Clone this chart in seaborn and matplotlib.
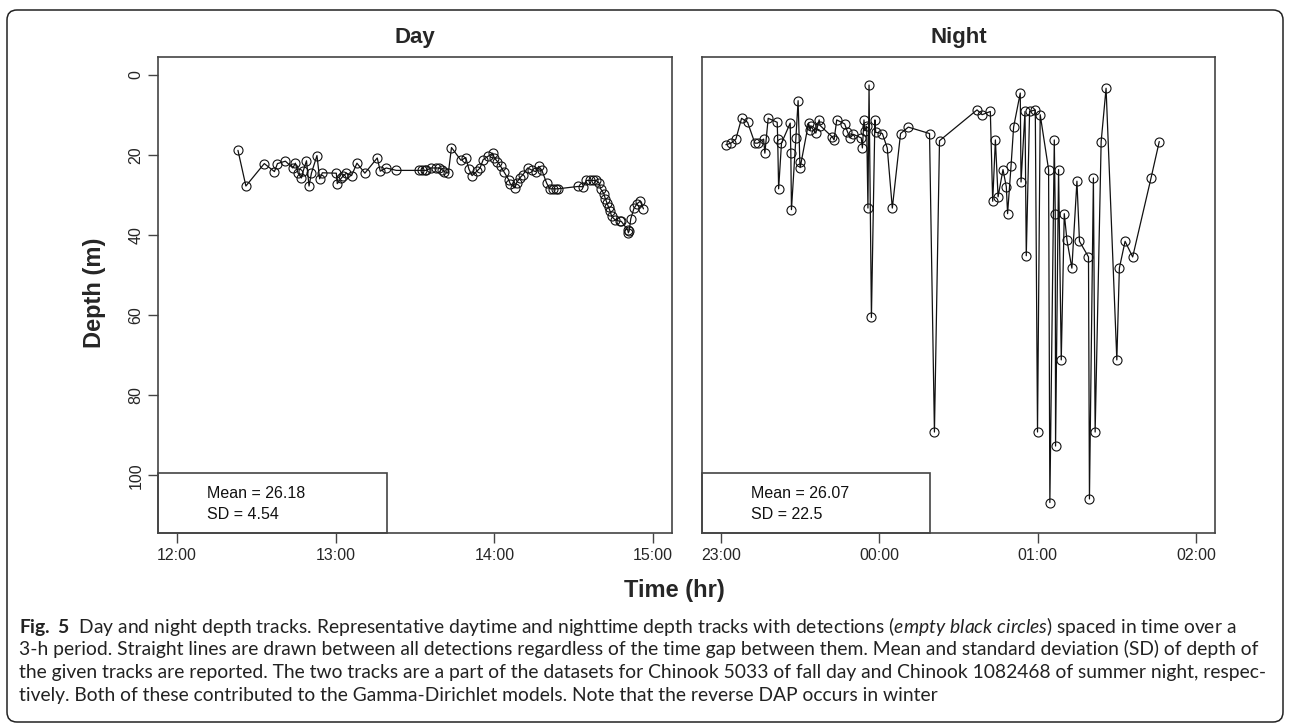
import matplotlib
matplotlib.use("Agg")
import numpy as np
import pandas as pd
import matplotlib.pyplot as plt
from matplotlib.patches import Rectangle, FancyBboxPatch
from matplotlib.transforms import IdentityTransform
import seaborn as sns

# Day track (decimal hours)
day_time = [12.384, 12.434, 12.550, 12.614, 12.633, 12.683, 12.730, 12.746, 12.763, 12.784,
            12.795, 12.816, 12.832, 12.847, 12.882, 12.899, 12.916, 13.004, 13.010, 13.036,
            13.046, 13.067, 13.100, 13.134, 13.184, 13.262, 13.281, 13.319, 13.382, 13.528,
            13.545, 13.560, 13.570, 13.600, 13.630, 13.650, 13.670, 13.685, 13.710, 13.730,
            13.790, 13.820, 13.840, 13.860, 13.890, 13.910, 13.930, 13.960, 13.990, 14.000,
            14.020, 14.040, 14.060, 14.090, 14.100, 14.130, 14.140, 14.160, 14.180, 14.210,
            14.240, 14.260, 14.280, 14.300, 14.330, 14.350, 14.370, 14.390, 14.400, 14.530,
            14.560, 14.580, 14.600, 14.620, 14.640, 14.660, 14.670, 14.690, 14.700, 14.710,
            14.720, 14.730, 14.740, 14.760, 14.790, 14.800, 14.840, 14.845, 14.850, 14.860,
            14.880, 14.900, 14.920, 14.940]
day_depth = [18.9, 27.8, 22.2, 24.2, 22.2, 21.6, 23.3, 22.1, 24.6, 25.8,
             24.1, 21.5, 27.8, 24.6, 20.2, 26.0, 24.5, 24.6, 27.2, 25.8,
             25.4, 24.6, 25.2, 22.1, 24.6, 20.8, 24.1, 23.3, 23.9, 23.9,
             23.9, 23.9, 23.9, 23.3, 23.3, 23.3, 23.7, 24.2, 24.6, 18.2,
             21.4, 20.7, 23.6, 25.2, 24.1, 23.3, 21.2, 20.4, 19.6, 20.8,
             21.7, 22.9, 24.2, 26.2, 27.2, 28.3, 27.0, 25.8, 25.0, 23.3,
             23.9, 24.2, 22.9, 23.9, 27.1, 28.5, 28.5, 28.5, 28.5, 27.9,
             28.0, 26.4, 26.4, 26.4, 26.4, 27.0, 28.5, 29.7, 31.0, 32.0,
             33.1, 34.1, 35.4, 36.2, 36.6, 36.6, 38.7, 39.5, 39.0, 36.0,
             33.4, 32.2, 31.6, 33.5]

# Night track (hours relative to midnight, -1 = 23:00)
night_time = [-0.969, -0.937, -0.906, -0.870, -0.832, -0.786, -0.769, -0.731, -0.723, -0.702,
              -0.645, -0.642, -0.636, -0.618, -0.563, -0.559, -0.555, -0.527, -0.513, -0.502,
              -0.500, -0.447, -0.437, -0.433, -0.401, -0.380, -0.374, -0.296, -0.286, -0.269,
              -0.219, -0.202, -0.185, -0.164, -0.114, -0.107, -0.097, -0.092, -0.080, -0.072,
              -0.065, -0.050, -0.028, -0.023, 0.019, 0.050, 0.082, 0.134, 0.183, 0.317,
              0.348, 0.380, 0.617, 0.649, 0.701, 0.716, 0.733, 0.750, 0.781, 0.802,
              0.810, 0.832, 0.848, 0.890, 0.895, 0.920, 0.928, 0.949, 0.985, 0.999,
              1.016, 1.069, 1.077, 1.105, 1.111, 1.113, 1.132, 1.149, 1.168, 1.185,
              1.216, 1.248, 1.264, 1.321, 1.327, 1.352, 1.363, 1.401, 1.432, 1.500,
              1.516, 1.552, 1.600, 1.716, 1.768]
night_depth = [17.5, 17.1, 16.1, 10.9, 11.9, 17.1, 17.1, 16.1, 19.6, 10.9,
               11.9, 16.1, 28.5, 17.1, 12.1, 19.6, 33.7, 15.8, 6.5, 21.9,
               23.2, 12.1, 13.9, 12.9, 14.6, 11.3, 12.7, 15.6, 16.3, 11.3,
               12.3, 14.2, 15.8, 14.9, 15.8, 18.3, 11.3, 14.0, 12.9, 33.3,
               2.6, 60.6, 11.3, 14.4, 14.7, 18.3, 33.3, 14.7, 13.1, 14.7,
               89.2, 16.5, 8.8, 10.0, 9.2, 31.6, 16.3, 30.5, 23.7, 28.0,
               34.7, 22.7, 13.1, 4.6, 26.8, 9.2, 45.2, 9.2, 8.8, 89.2,
               10.0, 23.7, 106.8, 16.3, 34.7, 92.7, 23.7, 71.2, 34.7, 41.3,
               48.3, 26.6, 41.6, 45.5, 105.9, 25.8, 89.2, 16.7, 3.4, 71.2,
               48.3, 41.6, 45.5, 25.8, 16.7]

panel_names = ["Day", "Night"]
panel_means = ["26.18", "26.07"]
panel_sds = ["4.54", "22.5"]
day_ticks = [12, 13, 14, 15]
day_ticklabels = ["12:00", "13:00", "14:00", "15:00"]
night_ticks = [-1, 0, 1, 2]
night_ticklabels = ["23:00", "00:00", "01:00", "02:00"]
depth_ticks = [0, 20, 40, 60, 80, 100]

caption_lines = [
    r"$\mathbf{Fig.\ 5}$  Day and night depth tracks. Representative daytime and nighttime depth tracks with detections ($\mathit{empty\ black\ circles}$) spaced in time over a",
    "3-h period. Straight lines are drawn between all detections regardless of the time gap between them. Mean and standard deviation (SD) of depth of",
    "the given tracks are reported. The two tracks are a part of the datasets for Chinook 5033 of fall day and Chinook 1082468 of summer night, respec-",
    "tively. Both of these contributed to the Gamma-Dirichlet models. Note that the reverse DAP occurs in winter",
]

sns.set_style("white")
plt.rcParams['font.family'] = ['Liberation Sans', 'DejaVu Sans']
plt.rcParams['mathtext.fontset'] = 'custom'
plt.rcParams['mathtext.rm'] = 'Lato'
plt.rcParams['mathtext.it'] = 'Lato:italic'
plt.rcParams['mathtext.bf'] = 'Lato:bold'

W, H = 1290, 726
fig = plt.figure(figsize=(W / 100, H / 100), dpi=100)
fig.patch.set_facecolor('white')


def px_rect(left, top, right, bottom):
    return [left / W, 1 - bottom / H, (right - left) / W, (bottom - top) / H]


ax_day = fig.add_axes(px_rect(158, 57, 672, 533))
ax_night = fig.add_axes(px_rect(702, 57, 1215, 533))

tracks = [
    (ax_day, day_time, day_depth, (11.88, 15.12), day_ticks, day_ticklabels),
    (ax_night, night_time, night_depth, (-1.12, 2.12), night_ticks, night_ticklabels),
]

for i, (ax, t, d, xlim, xt, xtl) in enumerate(tracks):
    df = pd.DataFrame({'time': t, 'depth': d})
    sns.lineplot(data=df, x='time', y='depth', estimator=None, sort=False, ax=ax,
                 color='#111111', lw=0.9, marker='o', markersize=6.5,
                 markerfacecolor='none', markeredgecolor='#111111', markeredgewidth=0.8)
    ax.set_xlim(*xlim)
    ax.set_ylim(114.4, -4.4)
    ax.set_xticks(xt)
    ax.set_xticklabels(xtl)
    ax.set_xlabel('')
    ax.set_ylabel('')
    ax.tick_params(axis='x', direction='out', length=7, width=1, color='#444444',
                   labelsize=11.5, pad=3.5, bottom=True)
    if i == 0:
        ax.set_yticks(depth_ticks)
        ax.set_yticklabels([str(v) for v in depth_ticks], rotation=90, va='center')
        ax.tick_params(axis='y', direction='out', length=7, width=1, color='#444444',
                       labelsize=11.5, pad=3.5, left=True)
    else:
        ax.set_yticks([])
    for s in ax.spines.values():
        s.set_visible(True)
        s.set_color('#444444')
        s.set_linewidth(1.2)
    ax.set_title(panel_names[i], fontsize=16, fontweight='bold', pad=10)

    # stats box in lower left
    ax.add_patch(Rectangle((0, 0), 0.445, 0.126, transform=ax.transAxes, fill=False,
                           ec='#444444', lw=1.2, clip_on=False))
    ax.text(0.095, 0.084, f"Mean = {panel_means[i]}", transform=ax.transAxes,
            fontsize=11.5, va='center', ha='left', color='#111111')
    ax.text(0.095, 0.038, f"SD = {panel_sds[i]}", transform=ax.transAxes,
            fontsize=11.5, va='center', ha='left', color='#111111')

fig.text(94 / W, 1 - 293 / H, "Depth (m)", rotation=90, ha='center', va='center',
         fontsize=17, fontweight='bold')
fig.text(674 / W, 1 - 590 / H, "Time (hr)", ha='center', va='center',
         fontsize=17, fontweight='bold')

# caption, fitted to the width of the longest line
renderer = fig.canvas.get_renderer()
probe = fig.text(0, 0, caption_lines[1], fontsize=14, family=['Lato', 'DejaVu Sans'])
w = probe.get_window_extent(renderer).width
probe.remove()
cap_size = 14 * 1243 / w
for k, line in enumerate(caption_lines):
    fig.text(19 / W, 1 - (626 + 23.3 * k) / H, line, fontsize=cap_size,
             family=['Lato', 'DejaVu Sans'], ha='left', va='center', color='#222222')

frame = FancyBboxPatch((7, 4), 1276, 712, boxstyle="round,pad=0,rounding_size=10",
                       transform=IdentityTransform(), fill=False, ec='#222222', lw=1.1)
fig.add_artist(frame)

fig.savefig('out.png', dpi=100)
